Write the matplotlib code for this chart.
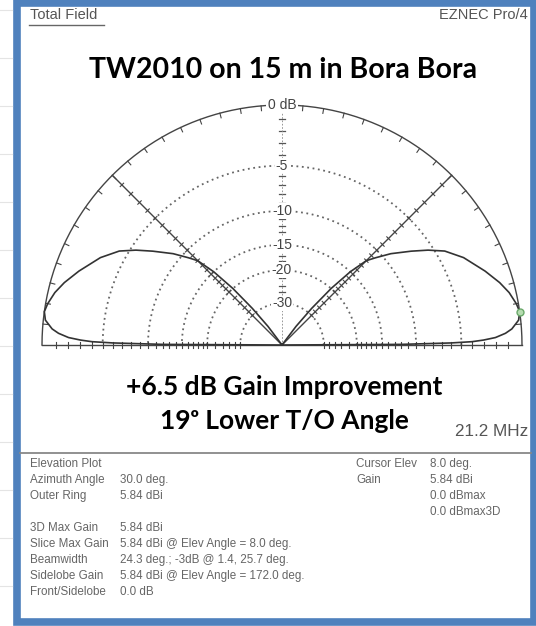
import numpy as np
import matplotlib.pyplot as plt
from matplotlib.patches import Rectangle

# forward lobe of the elevation pattern (deg above horizon, dB below max)
elev_deg = [0, 0.3, 0.7, 1.0, 1.4, 2, 3, 4, 6, 8, 10, 13, 16, 20, 25.7,
            30, 33, 36, 40, 43, 45, 47, 49, 51, 53, 55]
gain_db = [-99, -12, -6, -4, -3, -2, -1.2, -0.7, -0.15, 0, -0.15, -0.5, -1.0,
           -1.8, -3, -4.2, -5.5, -7, -9, -10.8, -12, -15, -20, -28, -40, -99]

ring_db = [-5, -10, -15, -20, -30]
ring_labels = ["-5", "-10", "-15", "-20", "-30"]
cursor_elev = 8.0

info_left = [("Elevation Plot", ""), ("Azimuth Angle", "30.0 deg."),
             ("Outer Ring", "5.84 dBi"), ("", ""),
             ("3D Max Gain", "5.84 dBi"),
             ("Slice Max Gain", "5.84 dBi @ Elev Angle = 8.0 deg."),
             ("Beamwidth", "24.3 deg.; -3dB @ 1.4, 25.7 deg."),
             ("Sidelobe Gain", "5.84 dBi @ Elev Angle = 172.0 deg."),
             ("Front/Sidelobe", "0.0 dB")]
info_right = [("Cursor Elev", "8.0 deg."), ("Gain", "5.84 dBi"),
              ("", "0.0 dBmax"), ("", "0.0 dBmax3D")]


def rad(db):
    # ARRL log scale: radius shrinks by 0.89 every 2 dB
    return 0.89 ** (-np.asarray(db, dtype=float) / 2.0)


W, H = 536, 626
fig = plt.figure(figsize=(W / 100, H / 100), dpi=100)

# background / frame axes in pixel units
bg = fig.add_axes([0, 0, 1, 1])
bg.set_xlim(0, W)
bg.set_ylim(H, 0)
bg.axis("off")
for yy in range(10, H, 48):
    bg.plot([0, 12], [yy, yy], color="#e4e4e4", lw=0.8)
bg.add_patch(Rectangle((16.5, 3), 517, 619, fill=False, ec="#4f81bd", lw=5.5))

gray_font = ["Liberation Sans", "DejaVu Sans"]
bg.text(30, 15, "Total Field", fontsize=10.5, color="#555", family=gray_font,
        va="center")
bg.plot([29, 104], [25, 25], color="#666", lw=1)
bg.text(528, 15, "EZNEC Pro/4", fontsize=10.5, color="#555", family=gray_font,
        va="center", ha="right")

bold_font = ["Lato", "DejaVu Sans"]
bg.text(283, 70, "TW2010 on 15 m in Bora Bora", fontsize=20.5,
        fontweight="bold", family=bold_font, ha="center", va="center")
bg.text(284, 387, "+6.5 dB Gain Improvement", fontsize=19,
        fontweight="bold", family=bold_font, ha="center", va="center")
bg.text(284, 421, "19\u1d52 Lower T/O Angle", fontsize=19,
        fontweight="bold", family=bold_font, ha="center", va="center")
bg.text(528, 431, "21.2 MHz", fontsize=12.3, color="#555", family=gray_font,
        ha="right", va="center")

bg.plot([20, 531], [453, 453], color="#888", lw=1.3)
for i, (lab, val) in enumerate(info_left):
    yy = 464 + i * 16
    bg.text(30, yy, lab, fontsize=8.4, color="#666", family=gray_font, va="center")
    bg.text(120, yy, val, fontsize=8.4, color="#666", family=gray_font, va="center")
for i, (lab, val) in enumerate(info_right):
    yy = 464 + i * 16
    bg.text(356, yy, lab, fontsize=8.4, color="#666", family=gray_font, va="center")
    bg.text(430, yy, val, fontsize=8.4, color="#666", family=gray_font, va="center")

# polar plot axes: centre at (282, 345) px, outer ring radius 240 px
R = 240.0
cx, cy = 282.0, 345.0
m = 0.05
left = (cx - R * (1 + m)) / W
bottom = (H - (cy + R * m)) / H
ax = fig.add_axes([left, bottom, 2 * R * (1 + m) / W, R * (1 + 2 * m) / H])
ax.set_xlim(-1 - m, 1 + m)
ax.set_ylim(-m, 1 + m)
ax.axis("off")

line_c = "#444"
th = np.radians(np.linspace(0, 180, 361))
ax.plot(np.cos(th), np.sin(th), color=line_c, lw=1.0)
for d in ring_db:
    r = rad(d)
    ax.plot(r * np.cos(th), r * np.sin(th), color="#666", lw=1.3,
            ls=(0, (1, 2)))
ax.plot([-1, 1], [0, 0], color=line_c, lw=1.0)

# ticks on the outer ring every 5 deg
for a in range(5, 180, 5):
    t = np.radians(a)
    ax.plot([np.cos(t), 0.98 * np.cos(t)], [np.sin(t), 0.98 * np.sin(t)],
            color=line_c, lw=0.8)

# 45 deg radial lines
tick_db = list(range(-1, -21, -1)) + list(range(-22, -31, -2))
tr = rad(tick_db)
for a in (45, 135):
    t = np.radians(a)
    ax.plot([0, np.cos(t)], [0, np.sin(t)], color=line_c, lw=1.0)
    px, py = -np.sin(t), np.cos(t)
    for r in tr:
        x0, y0 = r * np.cos(t), r * np.sin(t)
        ax.plot([x0 - 0.01 * px, x0 + 0.01 * px], [y0 - 0.01 * py, y0 + 0.01 * py],
                color=line_c, lw=0.8)

# vertical scale and ground ticks
for r in tr:
    ax.plot([-0.012, 0.012], [r, r], color="#555", lw=0.9)
    for s in (-1, 1):
        ax.plot([s * r, s * r], [-0.012, 0.012], color=line_c, lw=0.8)
ax.plot([0, 0], [0, 1], color="#888", lw=0.6, ls=(0, (2, 2)))

# pattern: forward lobe plus mirrored back lobe
e = np.array(elev_deg)
g = np.array(gain_db)
ang = np.concatenate([e, [90], 180 - e[::-1]])
gg = np.concatenate([g, [-99], g[::-1]])
rr = rad(gg)
ax.plot(rr * np.cos(np.radians(ang)), rr * np.sin(np.radians(ang)),
        color="#333", lw=1.2)

# labels
ax.text(0, 1.0, "0 dB", ha="center", va="center", fontsize=10, color="#444",
        family=gray_font, bbox=dict(fc="white", ec="none", pad=1))
for d, lab in zip(ring_db, ring_labels):
    ax.text(0, rad(d), lab, ha="center", va="center", fontsize=10, color="#444",
            family=gray_font, bbox=dict(fc="white", ec="none", pad=0.5))

# cursor marker
ct = np.radians(cursor_elev)
ax.plot([np.cos(ct)], [np.sin(ct)], "o", ms=5, mfc="#b5dcb0", mec="#6aa86a", mew=1)

fig.savefig("out.png", dpi=100)
